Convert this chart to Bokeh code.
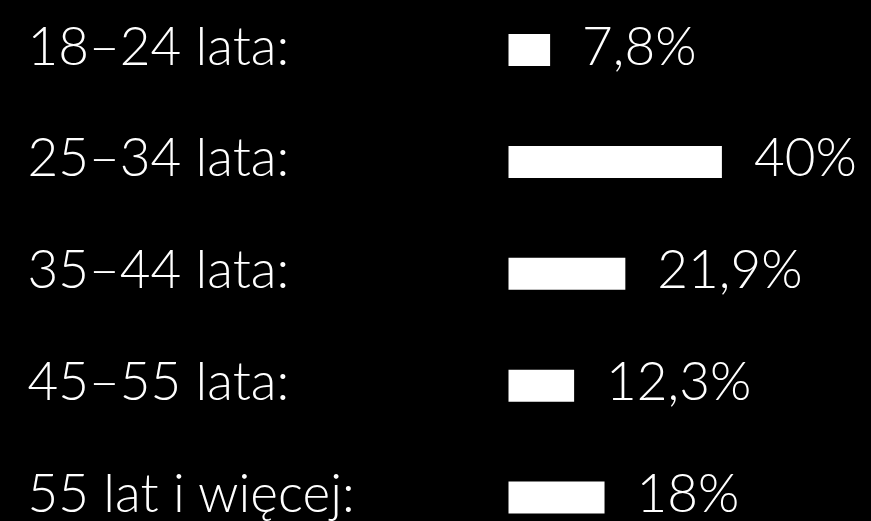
from bokeh.plotting import figure
from bokeh.models import Range1d, ColumnDataSource
from bokeh.core.properties import value
from bokeh.embed import file_html
from bokeh.resources import INLINE

categories = ["18–24 lata:", "25–34 lata:", "35–44 lata:", "45–55 lata:", "55 lat i więcej:"]
shares = [7.8, 40, 21.9, 12.3, 18]
share_labels = ["7,8%", "40%", "21,9%", "12,3%", "18%"]

n = len(categories)
ypos = [n - 1 - i for i in range(n)]

W, H = 871, 521
px_per_unit = 5.335      # pixels per percentage point
bar_left_px = 508        # where bars start
row_px = 111.9           # distance between rows
top_center_px = 49.5     # centre of first row from top
bar_h_px = 32
label_left_px = 27

x_start = -bar_left_px / px_per_unit
x_end = (W - bar_left_px) / px_per_unit
y_end = (n - 1) + top_center_px / row_px
y_start = y_end - H / row_px

src = ColumnDataSource(dict(y=ypos, v=shares, cat=categories, lab=share_labels,
                            lx=[(label_left_px - bar_left_px) / px_per_unit] * n))

p = figure(width=W, height=H, output_backend="svg", toolbar_location=None,
           x_range=Range1d(x_start, x_end), y_range=Range1d(y_start, y_end),
           min_border=0, background_fill_color="black", border_fill_color="black",
           outline_line_color=None)
p.axis.visible = False
p.grid.visible = False

p.hbar(y="y", left=0, right="v", height=bar_h_px / row_px, source=src,
       fill_color="white", line_color=None)

FONT = value("Lato Light")
p.text(x="lx", y="y", text="cat", source=src, text_color="white",
       text_font=FONT, text_font_size="53px", text_baseline="middle",
       text_align="left", y_offset=-6)
p.text(x="v", y="y", text="lab", source=src, text_color="white",
       text_font=FONT, text_font_size="53px", text_baseline="middle",
       text_align="left", x_offset=32, y_offset=-6)

html = file_html(p, INLINE)
html = html.replace("</head>", "<style>html, body { background: #000000; }</style>\n</head>", 1)
open("out.html", "w").write(html)
